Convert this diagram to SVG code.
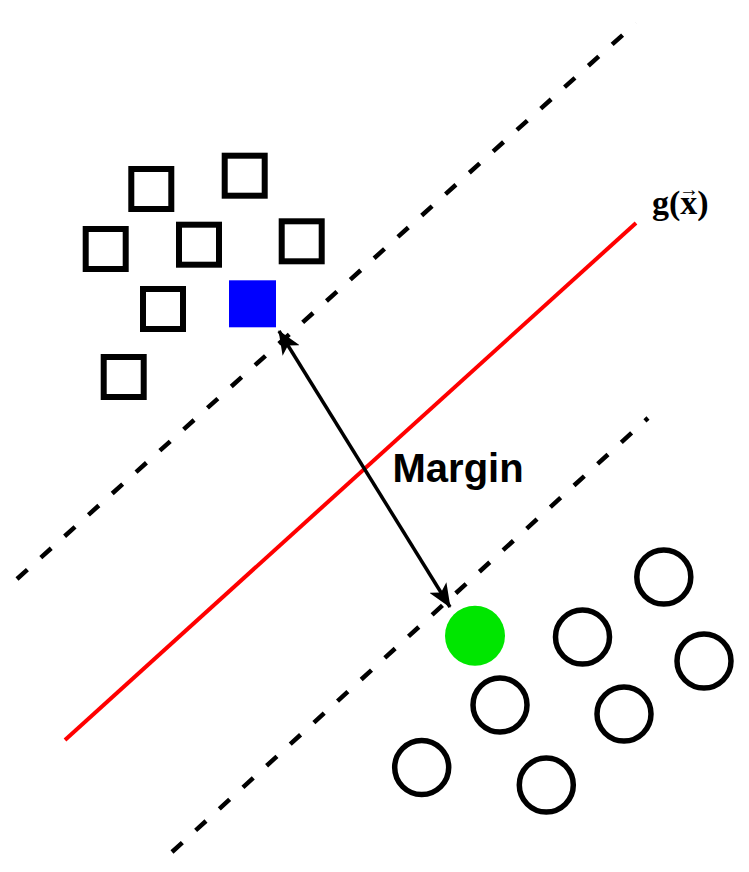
<svg xmlns="http://www.w3.org/2000/svg" width="749" height="872" viewBox="0 0 749 872">
<style>
.sq{fill:none;stroke:#000;stroke-width:6}
.ci{fill:none;stroke:#000;stroke-width:5.5}
.dash{stroke:#000;stroke-width:4.5;stroke-dasharray:14 18;fill:none}
</style>
<defs>
<marker id="ah" viewBox="0 0 24 20" refX="23" refY="10" markerWidth="24" markerHeight="20" markerUnits="userSpaceOnUse" orient="auto-start-reverse">
<path d="M0,0 L24,10 L0,20 L6,10 Z" fill="#000"/>
</marker>
</defs>
<rect width="749" height="872" fill="#fff"/>
<g id="connectors">
<line class="dash" x1="17" y1="579" x2="636" y2="23"/>
<line class="dash" x1="172" y1="852" x2="648" y2="418"/>
<line x1="65" y1="740" x2="636" y2="223" stroke="#ff0000" stroke-width="4"/>
<line x1="279" y1="331" x2="450" y2="607" stroke="#000" stroke-width="3.5" marker-start="url(#ah)" marker-end="url(#ah)"/>
</g>
<g id="sq1"><rect class="sq" x="131.3" y="169" width="40" height="40"/></g>
<g id="sq2"><rect class="sq" x="224.7" y="155.7" width="40" height="40"/></g>
<g id="sq3"><rect class="sq" x="85.7" y="229" width="40" height="40"/></g>
<g id="sq4"><rect class="sq" x="179" y="224.7" width="40" height="40"/></g>
<g id="sq5"><rect class="sq" x="281.7" y="221.3" width="40" height="40"/></g>
<g id="sq6"><rect class="sq" x="143" y="289" width="40" height="40"/></g>
<g id="sq7"><rect class="sq" x="103.7" y="357" width="40" height="40"/></g>
<g id="support-sq"><rect x="229" y="280.3" width="47" height="47" fill="#0000ff"/></g>
<g id="support-ci"><circle cx="475" cy="635.7" r="30" fill="#00e600"/></g>
<g id="ci1"><circle class="ci" cx="663.8" cy="577" r="27"/></g>
<g id="ci2"><circle class="ci" cx="582.5" cy="637" r="27"/></g>
<g id="ci3"><circle class="ci" cx="704" cy="661" r="27"/></g>
<g id="ci4"><circle class="ci" cx="500" cy="705" r="27"/></g>
<g id="ci5"><circle class="ci" cx="624" cy="714" r="27"/></g>
<g id="ci6"><circle class="ci" cx="421.7" cy="767.5" r="27"/></g>
<g id="ci7"><circle class="ci" cx="546.3" cy="785" r="27"/></g>
<g id="label-margin"><text x="392.5" y="482" font-family="Liberation Sans, Arial, sans-serif" font-weight="bold" font-size="40" fill="#000">Margin</text></g>
<g id="label-g" font-family="Liberation Serif, Times New Roman, serif" font-weight="bold" fill="#000">
<text x="652" y="214" font-size="34">g(x)</text>
<text x="689" y="196" font-size="20" text-anchor="middle">→</text>
</g>
</svg>
